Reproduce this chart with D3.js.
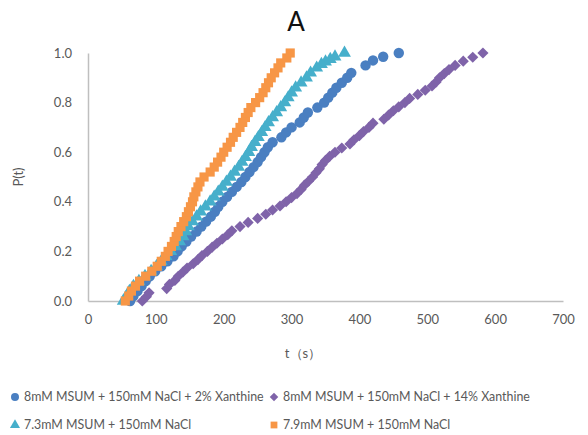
<!DOCTYPE html>
<html><head><meta charset="utf-8">
<script src="https://cdn.jsdelivr.net/npm/d3@7"></script>
<style>html,body{margin:0;padding:0;background:#fff;}svg{display:block;}</style>
</head><body>
<svg id="chart" width="588" height="435"></svg>
<script>
// ---- data ----
const seriesNames = [
  "8mM MSUM + 150mM NaCl + 2% Xanthine",
  "8mM MSUM + 150mM NaCl + 14% Xanthine",
  "7.3mM MSUM + 150mM NaCl",
  "7.9mM MSUM + 150mM NaCl"
];
const xTicks = [0, 100, 200, 300, 400, 500, 600, 700];
const yTicks = [0.0, 0.2, 0.4, 0.6, 0.8, 1.0];

const blueT = [62,67,73,79,85,91,99,108,117,126,132,138,145,152,160,167,174,181,187,192,198,205,212,219,226,232,238,244,250,255,260,265,272,285,292,300,312,318,324,338,348,354,360,366,374,382,388,409,420,435,458];
const blueP = [0.00,0.02,0.04,0.06,0.08,0.10,0.12,0.14,0.16,0.18,0.20,0.22,0.24,0.26,0.28,0.30,0.32,0.34,0.36,0.38,0.40,0.42,0.44,0.46,0.48,0.50,0.52,0.54,0.56,0.58,0.60,0.62,0.64,0.66,0.68,0.70,0.72,0.74,0.76,0.78,0.80,0.82,0.84,0.86,0.88,0.90,0.92,0.95,0.97,0.985,1.00];

const purpleT = [80,86,90,116,120,128,133,140,146,155,162,168,176,183,190,198,206,212,224,236,250,262,272,283,292,300,308,314,319,325,331,336,341,345,350,356,364,374,386,392,400,406,414,420,436,443,450,458,467,474,486,497,507,513,518,525,532,541,553,567,582];
const purpleP = [0.00,0.017,0.033,0.05,0.067,0.083,0.10,0.117,0.133,0.15,0.167,0.183,0.20,0.217,0.233,0.25,0.267,0.283,0.30,0.317,0.333,0.35,0.367,0.383,0.40,0.417,0.433,0.45,0.467,0.483,0.50,0.517,0.533,0.55,0.567,0.583,0.60,0.617,0.633,0.65,0.667,0.683,0.70,0.717,0.733,0.75,0.767,0.783,0.80,0.817,0.833,0.85,0.867,0.883,0.90,0.917,0.933,0.95,0.967,0.983,1.00];

const cyanT = [52,57,61,67,75,84,93,101,108,115,122,129,135,140,144,148,154,160,166,173,180,186,192,198,204,210,216,222,227,232,237,241,246,251,256,261,266,272,278,284,290,295,300,306,314,322,328,337,344,350,357,364,378];
const cyanP = [0.00,0.02,0.04,0.06,0.08,0.10,0.12,0.14,0.16,0.18,0.20,0.22,0.24,0.26,0.28,0.30,0.32,0.34,0.36,0.38,0.40,0.42,0.44,0.46,0.48,0.50,0.52,0.54,0.56,0.58,0.60,0.62,0.64,0.66,0.68,0.70,0.72,0.74,0.76,0.78,0.80,0.82,0.84,0.86,0.88,0.90,0.92,0.94,0.955,0.965,0.975,0.985,1.00];

const orangeT = [55,60,64,70,76,85,94,102,108,114,118,123,127,130,133,137,141,145,148,151,154,156,159,162,165,171,180,186,191,196,200,205,210,214,219,224,228,232,236,240,247,253,258,262,266,270,275,280,284,293,298];
const orangeP = [0.00,0.02,0.04,0.06,0.08,0.10,0.12,0.14,0.16,0.18,0.20,0.22,0.24,0.26,0.28,0.30,0.32,0.34,0.36,0.38,0.40,0.42,0.44,0.46,0.48,0.50,0.52,0.54,0.56,0.58,0.60,0.62,0.64,0.66,0.68,0.70,0.72,0.74,0.76,0.78,0.80,0.82,0.84,0.86,0.88,0.90,0.92,0.94,0.96,0.98,1.00];

const colors = ["#4A7FC1", "#7F63A9", "#46AFCB", "#F79646"];
const shapes = [d3.symbolCircle, d3.symbolSquare, d3.symbolTriangle, d3.symbolSquare];
const rotations = [0, 45, 0, 0];
const sizes = [85, 62, 72, 84];

const series = [
  {t: blueT, p: blueP},
  {t: purpleT, p: purpleP},
  {t: cyanT, p: cyanP},
  {t: orangeT, p: orangeP}
];

// ---- drawing ----
const svg = d3.select("#chart");
const font = "Lato, 'Open Sans', sans-serif";
const x = d3.scaleLinear().domain([0, 700]).range([88, 563]);
const y = d3.scaleLinear().domain([0, 1]).range([301, 53]);

svg.append("text").attr("x", 296).attr("y", 31).attr("text-anchor", "middle")
  .attr("font-family", font).attr("font-size", 26).attr("fill", "#111").text("A");

const xAxis = svg.append("g").attr("transform", "translate(0,301)")
  .call(d3.axisBottom(x).tickValues(xTicks).tickSize(0).tickPadding(14).tickFormat(d3.format("d")));
const yAxis = svg.append("g").attr("transform", "translate(88,0)")
  .call(d3.axisLeft(y).tickValues(yTicks).tickSize(0).tickPadding(16).tickFormat(d3.format(".1f")));
[xAxis, yAxis].forEach(g => {
  g.select(".domain").attr("stroke", "#BFBFBF").attr("stroke-width", 1.5);
  g.selectAll("text").attr("font-family", font).attr("font-size", 13).attr("fill", "#595959");
});

svg.append("text").attr("transform", "translate(23,177) rotate(-90)").attr("text-anchor", "middle")
  .attr("font-family", font).attr("font-size", 13).attr("fill", "#595959").text("P(t)");
svg.append("text").attr("x", 303).attr("y", 358).attr("text-anchor", "middle")
  .attr("font-family", font).attr("font-size", 13).attr("fill", "#595959").text("t（s）");

series.forEach((s, i) => {
  const pts = s.t.map((t, j) => [t, s.p[j]]);
  svg.append("g").selectAll("path").data(pts).join("path")
    .attr("transform", d => `translate(${x(d[0])},${y(d[1])}) rotate(${rotations[i]})`)
    .attr("d", d3.symbol().type(shapes[i]).size(sizes[i]))
    .attr("fill", colors[i]);
});

// legend
const legSizes = [50, 36, 44, 46];
const legPos = [[15, 397], [274, 397], [15, 425], [274, 425]];
seriesNames.forEach((name, i) => {
  const g = svg.append("g").attr("transform", `translate(${legPos[i][0]},${legPos[i][1]})`);
  g.append("path").attr("d", d3.symbol().type(shapes[i]).size(legSizes[i]))
    .attr("transform", `rotate(${rotations[i]})`).attr("fill", colors[i]);
  g.append("text").attr("x", 9).attr("y", 0).attr("dy", "0.35em")
    .attr("font-family", font).attr("font-size", 12.4).attr("fill", "#595959").text(name);
});
</script>
</body></html>
